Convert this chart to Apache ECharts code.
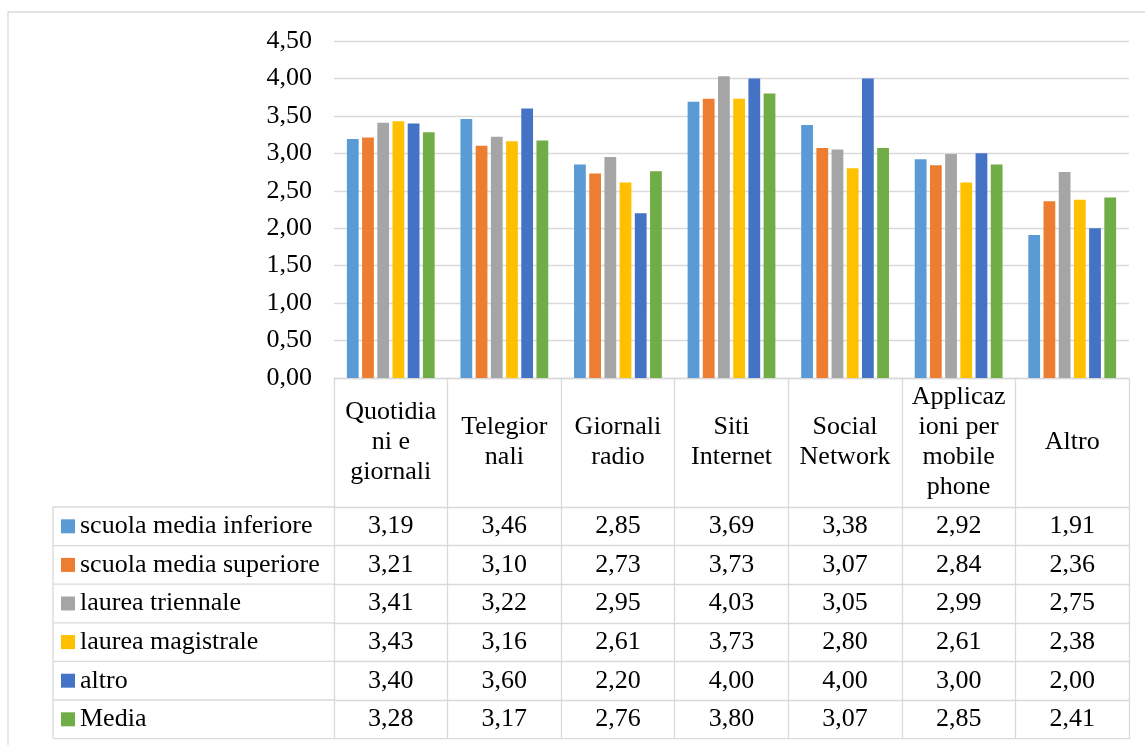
<!DOCTYPE html>
<html>
<head>
<meta charset="utf-8">
<script src="https://cdn.jsdelivr.net/npm/echarts@6/dist/echarts.min.js"></script>
<style>
  html, body { margin: 0; padding: 0; background: #fff; }
  #chart { width: 1145px; height: 745px; }
</style>
</head>
<body>
<div id="chart"></div>
<script>
// Categories (column headers of the data table)
const categories = ['Quotidiani e giornali', 'Telegiornali', 'Giornali radio', 'Siti Internet',
  'Social Network', 'Applicazioni per mobile phone', 'Altro'];
// Header labels as they wrap inside the table cells
const headerLabels = ['Quotidia\nni e\ngiornali', 'Telegior\nnali', 'Giornali\nradio', 'Siti\nInternet',
  'Social\nNetwork', 'Applicaz\nioni per\nmobile\nphone', 'Altro'];

const seriesNames = ['scuola media inferiore', 'scuola media superiore', 'laurea triennale',
  'laurea magistrale', 'altro', 'Media'];

const scuolaMediaInferiore = [3.19, 3.46, 2.85, 3.69, 3.38, 2.92, 1.91];
const scuolaMediaSuperiore = [3.21, 3.10, 2.73, 3.73, 3.07, 2.84, 2.36];
const laureaTriennale      = [3.41, 3.22, 2.95, 4.03, 3.05, 2.99, 2.75];
const laureaMagistrale     = [3.43, 3.16, 2.61, 3.73, 2.80, 2.61, 2.38];
const altro                = [3.40, 3.60, 2.20, 4.00, 4.00, 3.00, 2.00];
const media                = [3.28, 3.17, 2.76, 3.80, 3.07, 2.85, 2.41];

const yTicks = { min: 0, max: 4.5, interval: 0.5 };

const seriesValues = [scuolaMediaInferiore, scuolaMediaSuperiore, laureaTriennale,
  laureaMagistrale, altro, media];
const colors = ['#5B9BD5', '#ED7D31', '#A5A5A5', '#FFC000', '#4472C4', '#70AD47'];

const FONT = 'Liberation Serif';
const LINE = '#D9D9D9';
const fmt = v => v.toFixed(2).replace('.', ',');

// table geometry
const gridTop = 41, axisY = 378, headerBottom = 507, rowH = 38.6;
const tableLeft = 53, plotLeft = 334, plotRight = 1129;

const xAxes = [{
  type: 'category',
  data: categories,
  gridIndex: 0,
  position: 'bottom',
  axisLine: { show: true, lineStyle: { color: LINE, width: 1.3 } },
  axisTick: { show: true, length: 361, lineStyle: { color: LINE, width: 1.3 } },
  axisLabel: {
    interval: 0, margin: (headerBottom - axisY) / 2, verticalAlign: 'middle',
    fontFamily: FONT, fontSize: 26, lineHeight: 30, color: '#000', align: 'center',
    formatter: (v, i) => headerLabels[i]
  },
  splitLine: { show: false }
}];

// one axis per table row, drawing the row's top border and its values
seriesValues.forEach((vals, r) => {
  xAxes.push({
    type: 'category',
    data: categories,
    gridIndex: 0,
    position: 'bottom',
    offset: headerBottom + r * rowH - axisY,
    axisLine: { show: true, lineStyle: { color: LINE, width: 1.3 } },
    axisTick: { show: false },
    axisLabel: {
      interval: 0, margin: rowH / 2, verticalAlign: 'middle', hideOverlap: false,
      fontFamily: FONT, fontSize: 26, color: '#000',
      formatter: (v, i) => fmt(vals[i])
    },
    splitLine: { show: false }
  });
});

const tableBottom = headerBottom + seriesNames.length * rowH;
const graphics = [
  { type: 'polyline', silent: true, shape: { points: [[8, 745], [8, 12], [1145, 12]] },
    style: { stroke: LINE, lineWidth: 1.3, fill: null } },
  { type: 'line', silent: true, shape: { x1: tableLeft, y1: headerBottom, x2: tableLeft, y2: tableBottom },
    style: { stroke: LINE, lineWidth: 1.3 } },
  { type: 'line', silent: true, shape: { x1: tableLeft, y1: tableBottom, x2: plotRight, y2: tableBottom },
    style: { stroke: LINE, lineWidth: 1.3 } }
];
for (let r = 0; r < seriesNames.length; r++) {
  const y = headerBottom + r * rowH;
  graphics.push({ type: 'line', silent: true, shape: { x1: tableLeft, y1: y, x2: plotLeft, y2: y },
    style: { stroke: LINE, lineWidth: 1.3 } });
}

const option = {
  animation: false,
  backgroundColor: '#fff',
  color: colors,
  textStyle: { fontFamily: FONT },
  grid: { left: plotLeft, right: 1145 - plotRight, top: gridTop, bottom: 745 - axisY, containLabel: false },
  legend: {
    data: seriesNames,
    orient: 'vertical',
    left: 61,
    top: headerBottom,
    padding: 0,
    itemGap: 0,
    itemWidth: 14,
    itemHeight: 14,
    icon: 'rect',
    selectedMode: false,
    textStyle: { fontFamily: FONT, fontSize: 26, color: '#000', lineHeight: rowH, height: rowH }
  },
  xAxis: xAxes,
  yAxis: {
    type: 'value',
    min: yTicks.min, max: yTicks.max, interval: yTicks.interval,
    axisLine: { show: false },
    axisTick: { show: false },
    axisLabel: { fontFamily: FONT, fontSize: 26, color: '#000', margin: 22, formatter: v => fmt(v) },
    splitLine: { show: true, lineStyle: { color: LINE, width: 1.3 } }
  },
  series: seriesNames.map((name, i) => ({
    name, type: 'bar', xAxisIndex: 0,
    data: seriesValues[i],
    barCategoryGap: '22.7%',
    barGap: '29%',
    itemStyle: { color: colors[i] }
  })),
  graphic: graphics
};

const chart = echarts.init(document.getElementById('chart'), null, { renderer: 'canvas' });
chart.setOption(option);
</script>
</body>
</html>
